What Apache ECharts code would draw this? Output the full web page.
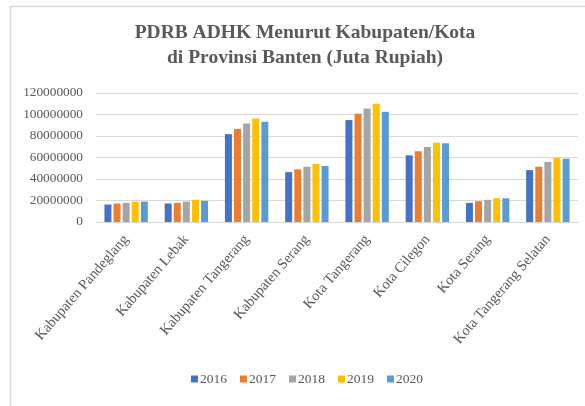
<!DOCTYPE html>
<html><head><meta charset="utf-8">
<script src="https://cdn.jsdelivr.net/npm/echarts@6/dist/echarts.min.js"></script>
<style>html,body{margin:0;padding:0;background:#fff}#c{width:585px;height:406px}</style>
</head><body><div id="c"></div>
<script>
const categories = ["Kabupaten Pandeglang","Kabupaten Lebak","Kabupaten Tangerang","Kabupaten Serang","Kota Tangerang","Kota Cilegon","Kota Serang","Kota Tangerang Selatan"];
const years = ["2016","2017","2018","2019","2020"];
const v2016 = [16300000,17200000,81700000,46400000,94800000,62000000,17800000,48300000];
const v2017 = [17200000,17800000,86600000,49000000,100700000,65800000,19300000,51400000];
const v2018 = [17800000,19000000,91600000,51400000,105600000,69800000,20600000,55800000];
const v2019 = [19000000,20600000,96300000,53900000,110000000,73800000,22100000,59800000];
const v2020 = [19000000,19600000,93200000,52100000,102500000,73200000,22100000,58900000];
const colors = ["#4472C4","#ED7D31","#A5A5A5","#FFC000","#5B9BD5"];
const seriesData = [v2016,v2017,v2018,v2019,v2020];
const font = "'Liberation Serif', 'DejaVu Serif', serif";
const chart = echarts.init(document.getElementById('c'));
chart.setOption({
  animation:false,
  textStyle:{fontFamily:font},
  graphic:[{type:'rect',shape:{x:10.5,y:6.5,width:620,height:440},
    style:{fill:'none',stroke:'#d9d9d9',lineWidth:1.5},silent:true}],
  title:{text:"PDRB ADHK Menurut Kabupaten/Kota\ndi Provinsi Banten (Juta Rupiah)",left:300,top:15,textAlign:'center',
    textStyle:{fontFamily:font,fontSize:19.5,fontWeight:'bold',color:'#595959',lineHeight:25}},
  legend:{bottom:15,left:186,itemWidth:7,itemHeight:7,itemGap:13,icon:'rect',
    textStyle:{fontFamily:font,fontSize:13.5,color:'#595959',padding:[0,0,0,-3]},data:years},
  grid:{left:96,right:7,top:93,bottom:184,containLabel:false},
  xAxis:{type:'category',data:categories,
    axisLine:{lineStyle:{color:'#d9d9d9'}},axisTick:{show:false},
    axisLabel:{rotate:49,interval:0,fontFamily:font,fontSize:14.5,color:'#595959',margin:15}},
  yAxis:{type:'value',min:0,max:120000000,interval:20000000,
    axisLine:{show:false},axisTick:{show:false},
    splitLine:{lineStyle:{color:'#d9d9d9',width:1}},
    axisLabel:{fontFamily:font,fontSize:13.3,color:'#595959',margin:13,formatter:(v)=>String(v)}},
  series:years.map((y,i)=>({name:y,type:'bar',data:seriesData[i],barWidth:7,barGap:'30%',
    itemStyle:{color:colors[i]}}))
});
</script></body></html>
